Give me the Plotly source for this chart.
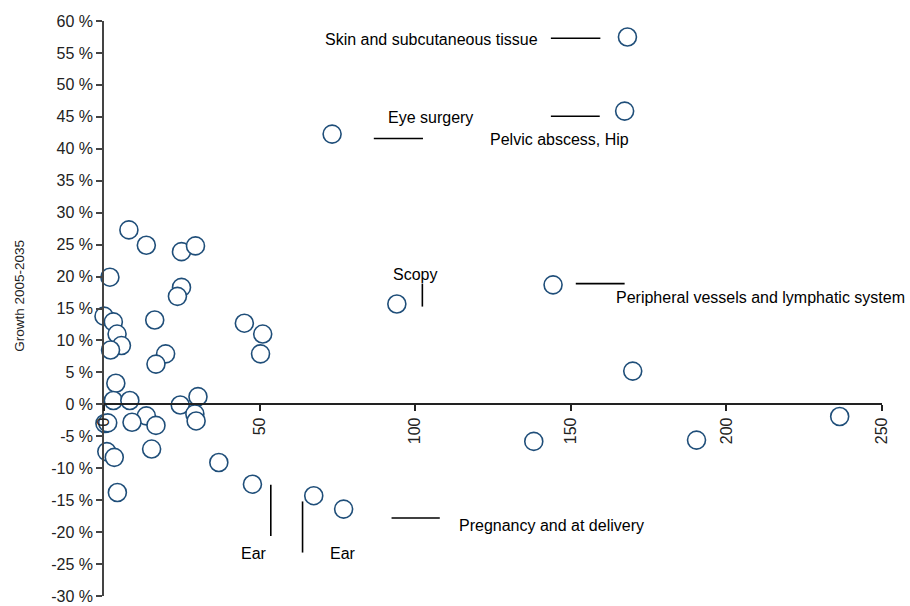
import plotly.graph_objects as go

# Data (x: volume indicator, y: growth 2005-2035 in percent)
x_values = [8.0, 13.6, 24.9, 29.4, 1.9, 24.9, 23.6, 0.0, 3.0, 16.3, 4.2, 5.6, 2.1, 19.8, 16.7,
            45.1, 51.0, 50.3, 3.8, 3.0, 8.3, 30.2, 24.5, 13.6, 29.2, 29.6, 0.3, 1.2, 9.0, 16.7,
            15.3, 0.9, 3.3, 4.3, 36.9, 47.7, 67.4, 77.0, 138.1, 144.3, 169.9, 190.4, 236.4,
            168.2, 167.3, 73.3, 94.1]
growth_values = [27.3, 24.9, 23.9, 24.8, 19.9, 18.3, 16.9, 13.8, 12.9, 13.2, 11.0, 9.2, 8.5, 7.9, 6.3,
                 12.7, 11.0, 7.9, 3.3, 0.6, 0.6, 1.2, -0.1, -1.8, -1.5, -2.6, -3.0, -2.9, -2.8, -3.3,
                 -7.0, -7.4, -8.3, -13.8, -9.1, -12.5, -14.3, -16.4, -5.8, 18.7, 5.2, -5.6, -1.9,
                 57.5, 45.9, 42.3, 15.7]

y_ticks = list(range(-30, 61, 5))
y_tick_labels = [f"{v} %" for v in y_ticks]
x_ticks = [0, 50, 100, 150, 200, 250]

# Label annotations: text, x, y
label_texts = ["Skin and subcutaneous tissue", "Eye surgery", "Pelvic abscess, Hip", "Scopy",
               "Peripheral vessels and lymphatic system", "Ear", "Ear", "Pregnancy and at delivery"]
label_x = [105.3, 105.0, 146.4, 99.9, 210.8, 48.3, 76.7, 143.8]
label_y = [57.1, 44.9, 41.5, 20.4, 16.8, -23.3, -23.3, -18.9]

# Leader lines: x0, y0, x1, y1
leader_lines = [
    (143.6, 57.3, 159.5, 57.3),
    (86.7, 41.6, 102.5, 41.6),
    (143.6, 45.1, 159.3, 45.1),
    (102.3, 18.9, 102.3, 15.3),
    (151.6, 18.9, 167.3, 18.9),
    (53.6, -12.6, 53.6, -20.6),
    (63.8, -15.2, 63.8, -23.2),
    (92.4, -17.8, 107.9, -17.8),
]

FONT = "Liberation Sans, Arial, sans-serif"

fig = go.Figure()
fig.add_trace(go.Scatter(
    x=x_values, y=growth_values, mode="markers",
    marker=dict(size=18, color="white", line=dict(color="#1F4E79", width=1.6)),
    cliponaxis=False, showlegend=False, hoverinfo="x+y",
))

for (x0, y0, x1, y1) in leader_lines:
    fig.add_shape(type="line", xref="x", yref="y", x0=x0, y0=y0, x1=x1, y1=y1,
                  line=dict(color="black", width=1.6))

for t, lx, ly in zip(label_texts, label_x, label_y):
    fig.add_annotation(x=lx, y=ly, xref="x", yref="y", text=t, showarrow=False,
                       xanchor="center", yanchor="middle",
                       font=dict(family=FONT, size=16, color="black"))

# Y axis title placed as a rotated annotation
fig.add_annotation(x=-84.5 / 778, y=(595.7 - 296) / 575, xref="paper", yref="paper",
                   text="Growth 2005-2035", textangle=-90, showarrow=False,
                   xanchor="center", yanchor="middle",
                   font=dict(family=FONT, size=13.5, color="#222"))

fig.update_layout(
    width=910, height=606,
    margin=dict(l=104, r=28, t=21, b=10, autoexpand=False),
    paper_bgcolor="white", plot_bgcolor="white",
    font=dict(family=FONT, size=16, color="#222"),
    xaxis=dict(range=[0, 250], anchor="free", position=1/3, showline=True,
               linecolor="#222", linewidth=1.5, ticks="outside", ticklen=6,
               tickcolor="#222", tickwidth=1.5, tickvals=x_ticks, tickangle=-90,
               showgrid=False, zeroline=False, layer="above traces",
               tickfont=dict(family=FONT, size=16, color="#222")),
    yaxis=dict(range=[-30, 60], showline=True, linecolor="#444", linewidth=1.5,
               ticks="outside", ticklen=6, tickcolor="#444", tickwidth=1.5,
               tickvals=y_ticks, ticktext=y_tick_labels, showgrid=False, zeroline=False,
               tickfont=dict(family=FONT, size=16, color="#222")),
)

fig.write_html("out.html", config={"displayModeBar": False},
               post_script="document.body.style.margin='0';")
